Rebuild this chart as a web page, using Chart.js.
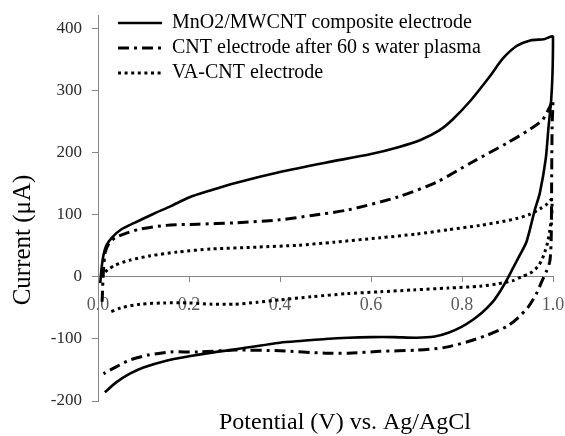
<!DOCTYPE html>
<html>
<head>
<meta charset="utf-8">
<script src="https://cdn.jsdelivr.net/npm/chart.js@4.4.0/dist/chart.umd.min.js"></script>
<style>
  html, body { margin: 0; padding: 0; background: #fff; }
</style>
</head>
<body>
<canvas id="cv-chart" width="565" height="436"></canvas>
<script>
// Potential (V) of each point, forward scan first, then the reverse scan
const mnoV = [0.005, 0.008, 0.012, 0.018, 0.03, 0.05, 0.08, 0.12, 0.16, 0.2, 0.25, 0.3, 0.4, 0.5, 0.6, 0.66, 0.71, 0.75, 0.78, 0.82, 0.86, 0.89, 0.92, 0.95, 0.98, 1.0,
              0.999, 0.996, 0.99, 0.984, 0.971, 0.96, 0.942, 0.927, 0.912, 0.9, 0.885, 0.868, 0.845, 0.824, 0.8, 0.77, 0.74, 0.7, 0.65, 0.6, 0.55, 0.5, 0.45, 0.4, 0.3, 0.25, 0.2, 0.15, 0.1, 0.07, 0.04, 0.015];
const mnoI = [-10, 15, 35, 50, 63, 76, 87, 101, 114, 128, 140, 151, 169, 184, 198, 209, 221, 236, 254, 285, 322, 352, 372, 381, 383, 387,
              330, 285, 240, 190, 135, 108, 57, 35, 14, -3, -22, -40, -57, -69, -80, -90, -96, -98, -97, -97, -98, -100, -103, -106, -117, -122, -128, -135, -146, -156, -170, -186];

const cntV = [0.009, 0.012, 0.016, 0.025, 0.038, 0.064, 0.093, 0.15, 0.22, 0.3, 0.4, 0.47, 0.55, 0.66, 0.745, 0.82, 0.9, 0.95, 0.977, 0.993, 1.0,
              0.998, 0.997, 0.996, 0.993, 0.985, 0.975, 0.965, 0.945, 0.92, 0.898, 0.855, 0.81, 0.76, 0.7, 0.62, 0.55, 0.5, 0.4, 0.3, 0.22, 0.16, 0.11, 0.07, 0.04, 0.012];
const cntI = [-40, 10, 40, 55, 63, 71, 77, 83, 85, 87, 92, 99, 108, 129, 153, 184, 216, 238, 253, 274, 285,
              240, 150, 60, 25, 8, -8, -25, -49, -68, -80, -94, -105, -114, -118, -120, -123, -123, -119, -118, -121, -121, -126, -134, -145, -156];

const vaV = [0.016, 0.022, 0.038, 0.07, 0.115, 0.174, 0.25, 0.35, 0.44, 0.52, 0.62, 0.7, 0.77, 0.84, 0.88, 0.92, 0.95, 0.972, 0.988, 0.997,
             0.998, 0.997, 0.993, 0.988, 0.982, 0.977, 0.97, 0.962, 0.95, 0.93, 0.912, 0.88, 0.84, 0.77, 0.693, 0.62, 0.547, 0.47, 0.4, 0.35, 0.3, 0.25, 0.2, 0.144, 0.093, 0.05, 0.023];
const vaI = [8, 12, 19, 27, 34, 40, 45, 48, 51, 56, 63, 69, 76, 83, 88, 94, 101, 110, 118, 125,
             115, 97, 75, 55, 40, 30, 20, 13, 6, 0, -6, -11, -15, -18, -21, -24, -27, -32, -37, -41, -44, -44, -42, -42, -44, -50, -58];

const seriesNames = ['MnO2/MWCNT composite electrode', 'CNT electrode after 60 s water plasma', 'VA-CNT electrode'];
const xTicks = [0, 0.2, 0.4, 0.6, 0.8, 1.0];
const xTickLabels = ['0.0', '0.2', '0.4', '0.6', '0.8', '1.0'];
const yTicks = [-200, -100, 0, 100, 200, 300, 400];
const xTitle = 'Potential (V) vs. Ag/AgCl';
const yTitle = 'Current (\u03bcA)';

const serif = "'Liberation Serif', 'Times New Roman', serif";
const axisGray = '#868686';

function pairs(v, i) {
  return v.map((x, k) => ({ x: x, y: i[k] }));
}

// legend sits in the top-left corner of the plot
const legendSpot = {
  id: 'legendSpot',
  afterLayout(chart) {
    chart.legend.left = 113;
    chart.legend.top = 8;
  }
};

// axis titles drawn where the original has them
const axisTitles = {
  id: 'axisTitles',
  afterDraw(chart) {
    const ctx = chart.ctx;
    ctx.save();
    ctx.fillStyle = '#000';
    ctx.textAlign = 'center';
    ctx.textBaseline = 'middle';
    ctx.font = '24px ' + serif;
    ctx.fillText(xTitle, 345, 423);
    ctx.translate(23, 240);
    ctx.rotate(-Math.PI / 2);
    ctx.font = '25px ' + serif;
    ctx.fillText(yTitle, 0, 0);
    ctx.restore();
  }
};

// no extra room for the edge labels, the plot runs to the canvas edges like the original
function noEdgePadding(s) {
  s.paddingLeft = 0;
  s.paddingRight = 0;
  s.paddingTop = 0;
  s.paddingBottom = 0;
}

const ctx = document.getElementById('cv-chart').getContext('2d');
new Chart(ctx, {
  type: 'scatter',
  data: {
    datasets: [{
      label: seriesNames[0],
      data: pairs(mnoV, mnoI),
      borderColor: '#000',
      borderWidth: 2.6,
      borderDash: []
    }, {
      label: seriesNames[1],
      data: pairs(cntV, cntI),
      borderColor: '#000',
      borderWidth: 3,
      borderDash: [11, 5, 3, 5]
    }, {
      label: seriesNames[2],
      data: pairs(vaV, vaI),
      borderColor: '#000',
      borderWidth: 3,
      borderDash: [3, 3.6]
    }]
  },
  options: {
    responsive: false,
    animation: false,
    showLine: true,
    clip: 6,
    elements: {
      point: { radius: 0, hoverRadius: 0 },
      line: { tension: 0.25, fill: false }
    },
    layout: {
      padding: { top: 15, right: 12, bottom: 35, left: 0 }
    },
    scales: {
      x: {
        type: 'linear',
        position: { y: 0 },
        min: 0,
        max: 1,
        afterBuildTicks: (s) => { s.ticks = xTicks.map(v => ({ value: v })); },
        afterFit: noEdgePadding,
        ticks: {
          autoSkip: false,
          maxRotation: 0,
          padding: 13,
          color: '#5a5a5a',
          font: { family: serif, size: 18 },
          callback: (v, i) => xTickLabels[i]
        },
        grid: { drawOnChartArea: false, tickLength: 5, tickColor: axisGray },
        border: { color: axisGray, width: 1 }
      },
      y: {
        type: 'linear',
        position: 'left',
        min: -200,
        max: 422,
        afterBuildTicks: (s) => { s.ticks = yTicks.map(v => ({ value: v })); },
        afterFit: (s) => { s.width = 98; noEdgePadding(s); },
        ticks: {
          padding: 10,
          color: '#2a2a2a',
          font: { family: serif, size: 17 },
          callback: (v) => String(v)
        },
        grid: { drawOnChartArea: false, tickLength: 6, tickColor: axisGray },
        border: { color: axisGray, width: 1 }
      }
    },
    plugins: {
      tooltip: { enabled: false },
      legend: {
        position: 'chartArea',
        align: 'start',
        labels: {
          usePointStyle: true,
          pointStyleWidth: 44,
          padding: 5,
          color: '#000',
          font: { family: serif, size: 20 },
          generateLabels: (chart) => chart.data.datasets.map((d, i) => ({
            text: d.label,
            fillStyle: '#000',
            strokeStyle: '#000',
            lineWidth: d.borderWidth,
            lineDash: d.borderDash,
            pointStyle: 'line',
            datasetIndex: i
          }))
        }
      }
    }
  },
  plugins: [legendSpot, axisTitles]
});
</script>
</body>
</html>
